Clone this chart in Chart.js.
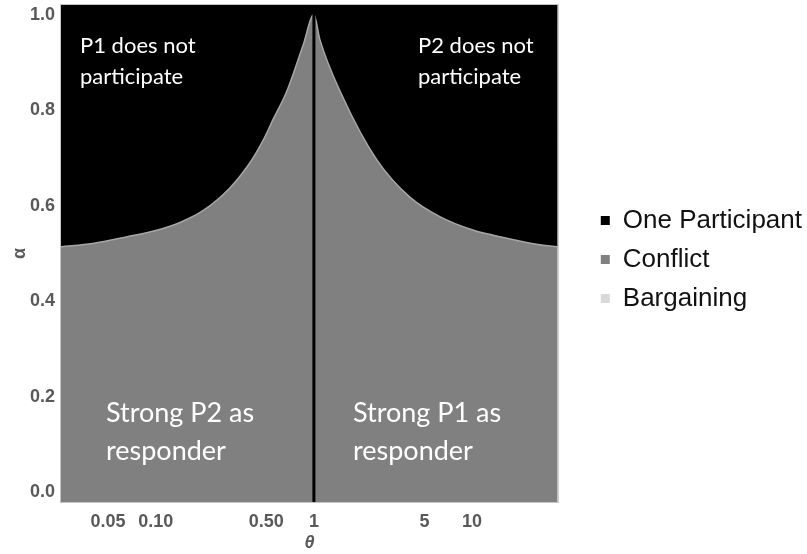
<!DOCTYPE html>
<html>
<head>
<meta charset="utf-8">
<script src="https://cdn.jsdelivr.net/npm/chart.js@4.4.1/dist/chart.umd.min.js"></script>
<style>
  html, body { margin: 0; padding: 0; background: #fff; }
</style>
</head>
<body>
<canvas id="regionChart" width="807" height="554"></canvas>
<script>
// boundary between "one participant" (above) and "conflict" (below)
const theta = [0.0252, 0.04, 0.066, 0.1, 0.1425, 0.2, 0.294, 0.4, 0.476, 0.551, 0.675, 0.853, 1,
  1.09, 1.52, 2.5, 4.04, 6.25, 10.1, 16.6, 25, 34.8];
const alpha = [0.514, 0.521, 0.535, 0.548, 0.565, 0.590, 0.637, 0.693, 0.736, 0.780, 0.840, 0.935, 1.0,
  0.948, 0.828, 0.696, 0.618, 0.577, 0.549, 0.532, 0.520, 0.514];

// vertical divider at theta = 1
const dividerTheta = [1, 1];
const dividerAlpha = [-0.02, 1.02];

const xTicks = [0.05, 0.1, 0.5, 1, 5, 10];
const xTickLabels = ["0.05", "0.10", "0.50", "1", "5", "10"];
const yTicks = [0, 0.2, 0.4, 0.6, 0.8, 1];

const legendNames = ["One Participant", "Conflict", "Bargaining"];
const legendColors = ["#000000", "#808080", "#d9d9d9"];

const curve = theta.map((t, i) => ({ x: t, y: alpha[i] }));
const divider = dividerTheta.map((t, i) => ({ x: t, y: dividerAlpha[i] }));

const tickColor = "#595959";

const notes = {
  id: "notes",
  afterDatasetsDraw(chart) {
    const { ctx, chartArea } = chart;
    const l = chartArea.left;
    const t = chartArea.top;
    ctx.save();
    ctx.fillStyle = "#ffffff";
    ctx.textBaseline = "middle";
    ctx.textAlign = "left";
    ctx.font = "22px Lato";
    ctx.fillText("P1 does not", l + 19, t + 41);
    ctx.fillText("participate", l + 19, t + 72);
    ctx.fillText("P2 does not", l + 357, t + 41);
    ctx.fillText("participate", l + 357, t + 72);
    ctx.font = "27px Lato";
    ctx.fillText("Strong P2 as", l + 45, t + 408);
    ctx.fillText("responder", l + 45, t + 446);
    ctx.fillText("Strong P1 as", l + 292, t + 408);
    ctx.fillText("responder", l + 292, t + 446);
    ctx.restore();
  },
  afterDraw(chart) {
    const { ctx, chartArea } = chart;
    ctx.save();
    ctx.strokeStyle = "#c4c4c4";
    ctx.lineWidth = 1;
    ctx.strokeRect(chartArea.left - 0.5, chartArea.top - 0.5,
      chartArea.right - chartArea.left + 1, chartArea.bottom - chartArea.top + 1);
    ctx.restore();
  },
};

const ctx = document.getElementById("regionChart");
const regionChart = new Chart(ctx, {
  type: "line",
  data: {
    datasets: [
      {
        label: "divider",
        data: divider,
        borderColor: "#000000",
        borderWidth: 3,
        pointRadius: 0,
        fill: false,
      },
      {
        label: "One Participant",
        data: curve,
        borderColor: "#a6a6a6",
        borderWidth: 1.5,
        backgroundColor: "#000000",
        pointRadius: 0,
        cubicInterpolationMode: "monotone",
        fill: "end",
      },
      {
        label: "Conflict",
        data: curve,
        borderWidth: 0,
        borderColor: "rgba(0,0,0,0)",
        backgroundColor: "#808080",
        pointRadius: 0,
        cubicInterpolationMode: "monotone",
        fill: "start",
      },
    ],
  },
  options: {
    responsive: false,
    animation: false,
    layout: { padding: { top: 5, right: -5, bottom: 0, left: 0 } },
    plugins: {
      tooltip: { enabled: false },
      legend: {
        position: "right",
        fullSize: false,
        maxWidth: 260,
        onClick: null,
        title: {
          display: true,
          text: "",
          color: "#111111",
          padding: { top: 11, bottom: 0 },
          font: { size: 1, lineHeight: 1 },
        },
        labels: {
          boxWidth: 9,
          boxHeight: 9,
          padding: 13,
          color: "#111111",
          font: { family: "Liberation Sans", size: 26 },
          generateLabels: () =>
            legendNames.map((name, i) => ({
              text: name,
              fillStyle: legendColors[i],
              strokeStyle: legendColors[i],
              fontColor: "#111111",
              lineWidth: 0,
              hidden: false,
              datasetIndex: i,
            })),
        },
      },
    },
    scales: {
      x: {
        type: "logarithmic",
        min: 0.0252,
        max: 34.8,
        afterBuildTicks: (scale) => {
          scale.ticks = xTicks.map((v) => ({ value: v }));
        },
        afterFit: (scale) => {
          scale.height = 52;
          scale.paddingLeft = 0;
          scale.paddingRight = 0;
        },
        grid: { display: false, drawTicks: false },
        border: { display: false },
        ticks: {
          autoSkip: false,
          maxRotation: 0,
          padding: 9,
          color: tickColor,
          font: { family: "Liberation Sans", size: 18, weight: "bold" },
          callback: (v) => xTickLabels[xTicks.indexOf(v)],
        },
        title: {
          display: true,
          text: "θ",
          color: tickColor,
          padding: { top: 1, bottom: 0 },
          font: { family: "Liberation Sans", size: 18, style: "italic", weight: "bold" },
        },
      },
      y: {
        min: -0.02,
        max: 1.02,
        afterBuildTicks: (scale) => {
          scale.ticks = yTicks.map((v) => ({ value: v }));
        },
        afterFit: (scale) => {
          scale.width = 61;
          scale.paddingTop = 0;
          scale.paddingBottom = 0;
        },
        grid: { display: false, drawTicks: false },
        border: { display: false },
        ticks: {
          padding: 6,
          color: tickColor,
          font: { family: "Liberation Sans", size: 18, weight: "bold" },
          callback: (v) => v.toFixed(1),
        },
        title: {
          display: true,
          text: "α",
          color: tickColor,
          padding: { top: 9, bottom: 0 },
          font: { family: "Liberation Sans", size: 18, weight: "bold" },
        },
      },
      gap: {
        position: "right",
        display: true,
        grid: { display: false, drawTicks: false },
        border: { display: false },
        ticks: { display: false },
        afterFit: (scale) => {
          scale.width = 30;
        },
      },
    },
  },
  plugins: [notes],
});
</script>
</body>
</html>
